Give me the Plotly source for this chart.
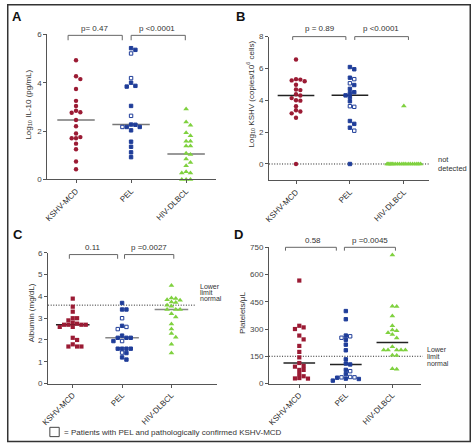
import numpy as np
import plotly.graph_objects as go

W, H = 471, 448

CATEGORIES = ["KSHV-MCD", "PEL", "HIV-DLBCL"]

# ---- Panel A: Log10 IL-10 (pg/mL)
A_KSHV = [4.93, 4.27, 4.15, 3.74, 3.25, 3.04, 2.84, 2.78, 2.76, 2.46, 2.20, 1.90, 1.75, 1.70, 1.70, 1.48, 1.25, 0.74, 0.42]
A_PEL = [5.43, 5.36, 5.21, 4.19, 4.00, 3.87, 3.84, 3.04, 2.63, 2.27, 2.26, 2.17, 2.17, 2.17, 2.03, 1.56, 1.35, 1.12, 0.92]
A_PEL_MCD = [0, 0, 1, 1, 0, 0, 0, 0, 1, 0, 0, 0, 0, 1, 0, 0, 0, 0, 0]
A_HIV = [2.91, 2.38, 2.24, 1.93, 1.81, 1.58, 1.58, 1.38, 1.38, 1.08, 1.03, 0.84, 0.70, 0.57, 0.32, 0.27, 0.27, 0.0, 0.0, 0.0]

# ---- Panel B: Log10 KSHV (copies/10^6 cells)
B_KSHV = [6.56, 5.33, 5.30, 5.25, 5.20, 4.98, 4.68, 4.64, 4.38, 4.30, 4.14, 4.00, 3.98, 3.63, 3.38, 3.30, 3.18, 2.90, 0.0]
B_PEL = [6.09, 5.95, 5.42, 5.33, 5.07, 4.96, 4.72, 4.51, 4.45, 4.31, 4.20, 3.94, 3.63, 3.59, 2.70, 2.52, 2.28, 2.09, 0.0]
B_PEL_MCD = [0, 0, 0, 1, 1, 0, 0, 0, 0, 0, 0, 0, 1, 1, 0, 0, 0, 1, 0]
B_HIV = [3.65, 0, 0, 0, 0, 0, 0, 0, 0, 0, 0, 0, 0, 0, 0, 0, 0, 0, 0, 0]
B_NOT_DETECTED = 0

# ---- Panel C: Albumin (mg/dL)
C_KSHV = [3.90, 3.53, 3.30, 3.00, 3.00, 2.90, 2.80, 2.75, 2.70, 2.70, 2.70, 2.70, 2.60, 2.60, 2.10, 2.00, 1.80, 1.70, 1.70, 1.70]
C_PEL = [3.70, 3.40, 3.40, 3.00, 2.65, 2.60, 2.50, 2.20, 2.10, 2.10, 2.10, 1.95, 1.95, 1.60, 1.60, 1.60, 1.60, 1.42, 1.40, 1.20, 1.10]
C_PEL_MCD = [0, 0, 0, 1, 0, 1, 1, 0, 0, 0, 0, 1, 0, 0, 0, 0, 0, 1, 0, 0, 0]
C_HIV = [4.50, 3.93, 3.90, 3.85, 3.82, 3.75, 3.72, 3.60, 3.55, 3.40, 3.40, 3.40, 3.20, 3.05, 2.73, 2.50, 2.30, 2.13, 1.80, 1.40]
C_LOWER_LIMIT = 3.6

# ---- Panel D: Platelets/uL
D_KSHV = [567, 318, 309, 300, 264, 243, 207, 174, 144, 113, 97, 93, 75, 75, 52, 40, 30, 28, 27]
D_PEL = [399, 354, 264, 260, 252, 241, 214, 183, 133, 110, 105, 75, 68, 52, 36, 34, 34, 32, 27, 25, 16]
D_PEL_MCD = [0, 0, 0, 1, 1, 0, 0, 0, 0, 0, 0, 0, 1, 0, 1, 1, 1, 0, 0, 0, 0]
D_HIV = [708, 426, 424, 372, 318, 295, 290, 280, 270, 250, 202, 185, 185, 185, 185, 185, 156, 154, 82, 78]
D_LOWER_LIMIT = 150

RED = "#9b1b34"
BLUE = "#1f3d99"
GREEN = "#7fd13f"
AXIS = "#555555"
TXT = "#333333"
FONT = "Liberation Sans, Arial, sans-serif"
DOT = "1px,1.6px"


def swarm(vals, ppu_x, ppu_y, size=4.4, maxw=17.0):
    vals = np.asarray(vals, float)
    order = np.argsort(-vals, kind="stable")
    placed = []
    off = np.zeros(len(vals))
    K = int(maxw // size)
    cands = [0.0]
    for k in range(1, K + 1):
        cands += [k * size, -k * size]
    lim = size * 0.9
    for i in order:
        y = vals[i] * ppu_y
        chosen = None
        for c in cands:
            if all(abs(y - py) >= lim or abs(c - px) >= lim for py, px in placed):
                chosen = c
                break
        if chosen is None:
            row = [px for py, px in placed if abs(y - py) < lim]
            grid = np.linspace(-maxw, maxw, 69)
            chosen = max(grid, key=lambda g: min(abs(g - r) for r in row))
        placed.append((y, chosen))
        off[i] = chosen / ppu_x
    return off


def P(xp, yp):
    return xp / W, 1 - yp / H


panels = [
    dict(n="", px=(41, 212), py=(31, 179), xr=(-0.52, 2.54), yr=(0, 6), yt=[0, 2, 4, 6],
         groups=(A_KSHV, A_PEL, A_HIV), mcd=A_PEL_MCD, ksym="circle",
         med=["#777777", "#777777", "#777777"],
         title="Log<sub>10</sub> IL-10 (pg/mL)", tpos=(22, 103), letter="A", lpos=(10, 13),
         br=[(62, 117, "p= 0.47", 89), (126, 181, "p <0.0001", 152)], bry=(32, 37, 25)),
    dict(n="2", px=(266, 428), py=(33.3, 180), xr=(-0.5, 2.46), yr=(-1.03, 8), yt=[0, 2, 4, 6, 8],
         groups=(B_KSHV, B_PEL, B_HIV), mcd=B_PEL_MCD, ksym="circle",
         med=["#222222", "#222222", "#222222"],
         title="Log<sub>10</sub> KSHV (copies/10<sup>6</sup> cells)", tpos=(247, 92), letter="B", lpos=(237, 13),
         br=[(290, 344, "p = 0.89", 318), (353, 407.5, "p <0.0001", 380)], bry=(33.3, 36.7, 25.5)),
    dict(n="3", px=(41.7, 213), py=(254, 387.3), xr=(-0.5, 2.92), yr=(0, 6), yt=[0, 1, 2, 3, 4, 5, 6],
         groups=(C_KSHV, C_PEL, C_HIV), mcd=C_PEL_MCD, ksym="square",
         med=["#222222", "#888888", "#888888"],
         title="Albumin (mg/dL)", tpos=(25, 315), letter="C", lpos=(11.5, 235.5),
         br=[(63.3, 112.3, "0.11", 87.3), (119.3, 169.3, "p =0.0027", 144.3)], bry=(255.7, 260, 248.5)),
    dict(n="4", px=(266, 420), py=(248.3, 387.3), xr=(-0.65, 2.61), yr=(0, 750), yt=[0, 150, 300, 450, 600, 750],
         groups=(D_KSHV, D_PEL, D_HIV), mcd=D_PEL_MCD, ksym="square",
         med=["#222222", "#222222", "#222222"],
         title="Platelets/μL", tpos=(239, 315), letter="D", lpos=(235, 235.5),
         br=[(282.7, 334.3, "0.58", 311), (342.5, 394.3, "p =0.0045", 368.3)], bry=(248.3, 251.7, 241.5)),
]

fig = go.Figure()
shapes = []
annotations = []
layout = {}

for p in panels:
    n = p["n"]
    (x0p, x1p), (y0p, y1p) = p["px"], p["py"]
    xr, yr = p["xr"], p["yr"]
    ppu_x = (x1p - x0p) / (xr[1] - xr[0])
    ppu_y = (y1p - y0p) / (yr[1] - yr[0])
    xa, ya = "x" + n, "y" + n

    def ypx(v, y1p=y1p, yr=yr, ppu_y=ppu_y):
        return y1p - (v - yr[0]) * ppu_y

    for gi, vals in enumerate(p["groups"]):
        med = float(np.median(vals))
        fig.add_trace(go.Scatter(x=[gi - 0.34, gi + 0.34], y=[med, med], mode="lines",
                                 line=dict(color=p["med"][gi], width=1.5), xaxis=xa, yaxis=ya,
                                 hoverinfo="skip"))
    for gi, vals in enumerate(p["groups"]):
        off = swarm(vals, ppu_x, ppu_y)
        xs = gi + off
        if gi == 1:
            fill = ["white" if m else BLUE for m in p["mcd"]]
            marker = dict(symbol="square", size=3.4, color=fill, line=dict(color=BLUE, width=1))
        elif gi == 0:
            marker = dict(symbol=p["ksym"], size=4.4 if p["ksym"] == "circle" else 4.2, color=RED,
                          line=dict(width=0))
        else:
            marker = dict(symbol="triangle-up", size=5, color=GREEN, line=dict(width=0))
        fig.add_trace(go.Scatter(x=xs, y=vals, mode="markers", marker=marker, cliponaxis=False,
                                 xaxis=xa, yaxis=ya))

    layout["xaxis" + n] = dict(domain=[x0p / W, x1p / W], range=list(xr), anchor=ya,
                               showline=True, linecolor=AXIS, linewidth=1, ticks="outside", ticklen=3,
                               tickcolor=AXIS, tickvals=[0, 1, 2], ticktext=CATEGORIES, tickangle=-45,
                               tickfont=dict(size=8, color=TXT), showgrid=False, zeroline=False,
                               fixedrange=True)
    layout["yaxis" + n] = dict(domain=[1 - y1p / H, 1 - y0p / H], range=list(yr), anchor=xa,
                               showline=True, linecolor=AXIS, linewidth=1, ticks="outside", ticklen=3,
                               tickcolor=AXIS, tickvals=p["yt"], tickfont=dict(size=8, color="#444444"),
                               showgrid=False, zeroline=False, fixedrange=True)

    tx, ty = P(*p["tpos"])
    annotations.append(dict(x=tx, y=ty, xref="paper", yref="paper", text=p["title"], textangle=-90,
                            showarrow=False, font=dict(size=8, color=TXT), xanchor="center", yanchor="middle"))
    lx, ly = P(*p["lpos"])
    annotations.append(dict(x=lx, y=ly, xref="paper", yref="paper", text="<b>%s</b>" % p["letter"],
                            showarrow=False, font=dict(size=13, color="#111111", family="Liberation Sans, Arial"),
                            xanchor="center", yanchor="middle"))
    btop, bbot, ty_txt = p["bry"]
    for (b0, b1, lab, lxp) in p["br"]:
        X0, Yt = P(b0, btop)
        X1, Yb = P(b1, bbot)
        shapes.append(dict(type="path", xref="paper", yref="paper",
                           path="M %f %f L %f %f L %f %f L %f %f" % (X0, Yb, X0, Yt, X1, Yt, X1, Yb),
                           line=dict(color="#666666", width=1)))
        ax_, ay_ = P(lxp, ty_txt)
        annotations.append(dict(x=ax_, y=ay_, xref="paper", yref="paper", text=lab, showarrow=False,
                                font=dict(size=8, color=TXT), xanchor="center", yanchor="middle"))

    if p["letter"] == "B":
        yy = ypx(B_NOT_DETECTED)
        X0, Y0 = P(266, yy)
        X1, _ = P(429, yy)
        shapes.append(dict(type="line", xref="paper", yref="paper", x0=X0, x1=X1, y0=Y0, y1=Y0,
                           line=dict(color="#222222", width=1, dash=DOT), layer="below"))
        for txt, yl in (("not", 158.5), ("detected", 167.5)):
            a, b = P(435, yl)
            annotations.append(dict(x=a, y=b, xref="paper", yref="paper", text=txt, showarrow=False,
                                    font=dict(size=7.5, color=TXT), xanchor="left", yanchor="middle"))
    if p["letter"] == "C":
        yy = ypx(C_LOWER_LIMIT)
        X0, Y0 = P(41.7, yy)
        X1, _ = P(191.7, yy)
        shapes.append(dict(type="line", xref="paper", yref="paper", x0=X0, x1=X1, y0=Y0, y1=Y0,
                           line=dict(color="#222222", width=1, dash=DOT), layer="below"))
        for txt, yl in (("Lower", 288), ("limit", 294.5), ("normal", 301)):
            a, b = P(194, yl)
            annotations.append(dict(x=a, y=b, xref="paper", yref="paper", text=txt, showarrow=False,
                                    font=dict(size=7, color=TXT), xanchor="left", yanchor="middle"))
    if p["letter"] == "D":
        yy = ypx(D_LOWER_LIMIT)
        X0, Y0 = P(266, yy)
        X1, _ = P(422, yy)
        shapes.append(dict(type="line", xref="paper", yref="paper", x0=X0, x1=X1, y0=Y0, y1=Y0,
                           line=dict(color="#222222", width=1, dash=DOT), layer="below"))
        for txt, yl in (("Lower", 353), ("limit", 360), ("normal", 367)):
            a, b = P(424, yl)
            annotations.append(dict(x=a, y=b, xref="paper", yref="paper", text=txt, showarrow=False,
                                    font=dict(size=7, color=TXT), xanchor="left", yanchor="middle"))

# footnote legend
a0, b0 = P(43.5, 432)
a1, b1 = P(53, 441.5)
shapes.append(dict(type="rect", xref="paper", yref="paper", x0=a0, x1=a1, y0=b1, y1=b0,
                   line=dict(color="#444444", width=1), fillcolor="white"))
a, b = P(56, 437)
annotations.append(dict(x=a, y=b, xref="paper", yref="paper",
                        text="= Patients with PEL and pathologically confirmed KSHV-MCD",
                        showarrow=False, font=dict(size=8, color=TXT), xanchor="left", yanchor="middle"))
# outer border
a0, b0 = P(0.75, 0.75)
a1, b1 = P(470.25, 446.5)
shapes.append(dict(type="rect", xref="paper", yref="paper", x0=a0, x1=a1, y0=b1, y1=b0,
                   line=dict(color="#333333", width=1.5)))

fig.update_layout(width=W, height=H, margin=dict(l=0, r=0, t=0, b=0), autosize=False,
                  plot_bgcolor="white", paper_bgcolor="white", showlegend=False,
                  font=dict(family=FONT, size=8, color=TXT), shapes=shapes, annotations=annotations,
                  **layout)

fig.write_html("out.html", config={"displayModeBar": False},
               post_script="document.body.style.margin='0px';document.body.style.padding='0px';"
                           "document.body.style.overflow='hidden';")
